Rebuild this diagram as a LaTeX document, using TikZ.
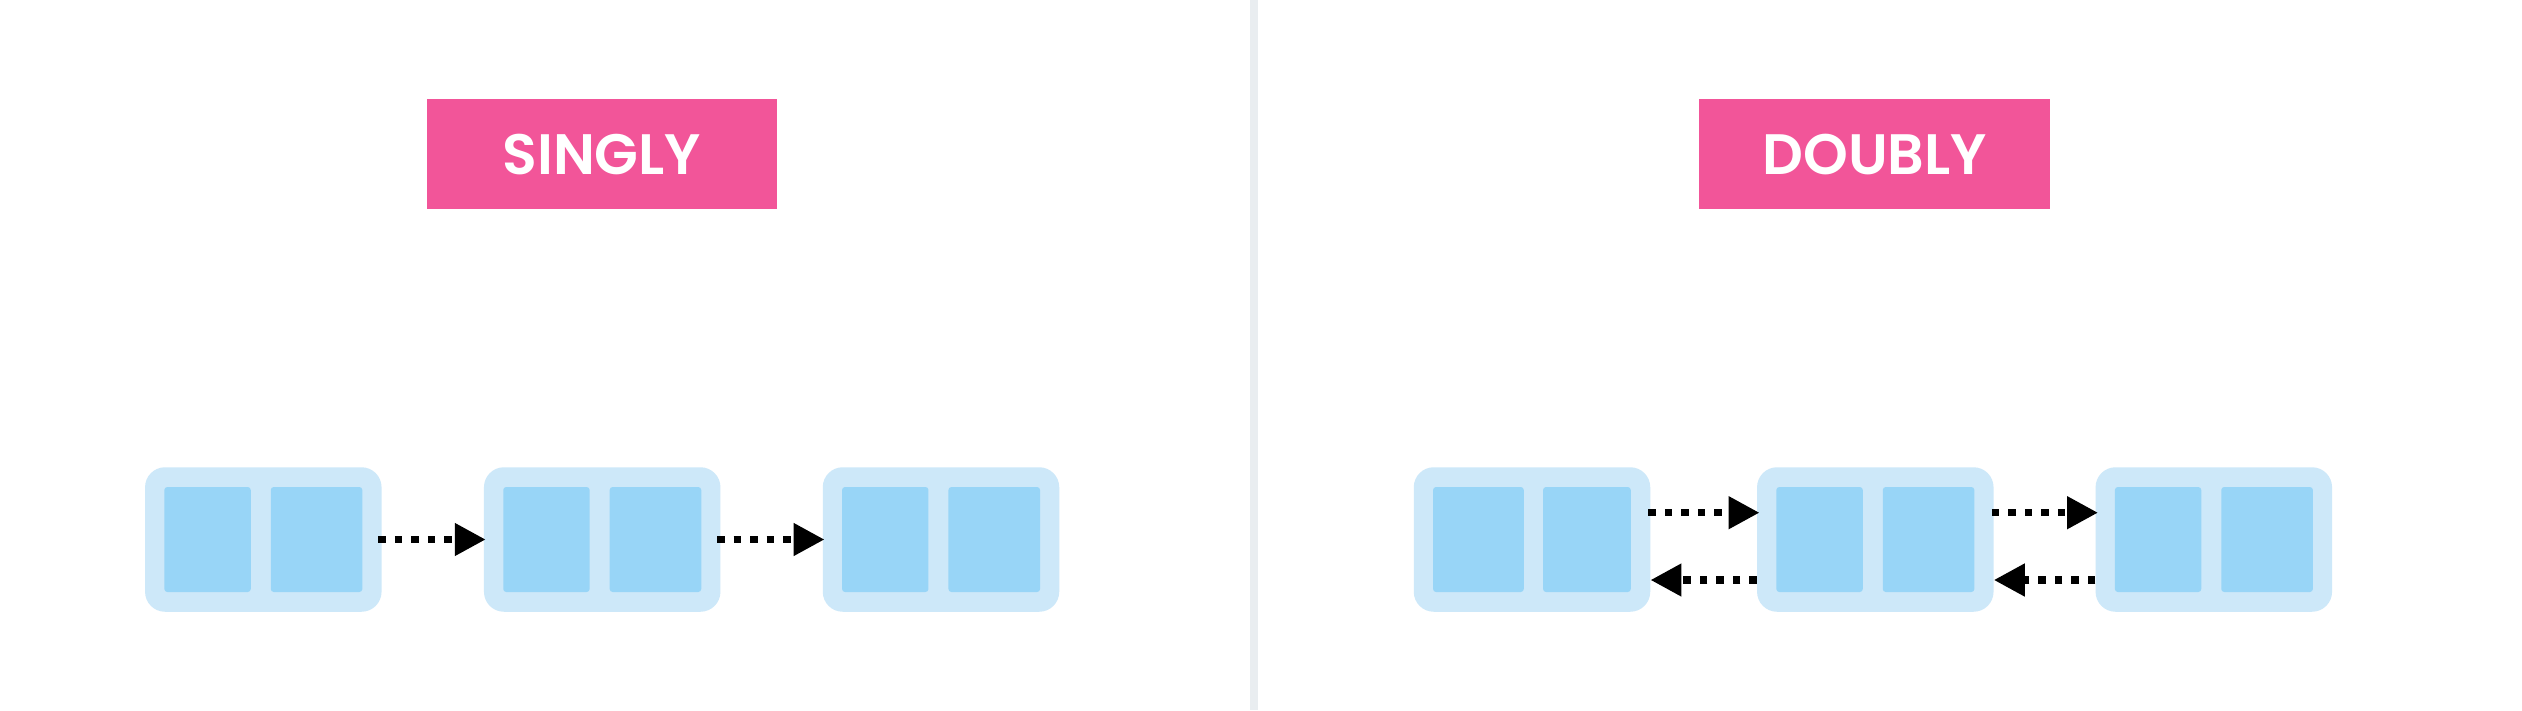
\documentclass[tikz,border=0pt]{standalone}
\usepackage{fontspec}
\newfontfamily\popp{Poppins}[BoldFont={Poppins SemiBold}]
\usetikzlibrary{arrows.meta}
\definecolor{pinkbox}{HTML}{F25599}
\definecolor{outerblue}{HTML}{CDE8F9}
\definecolor{cellblue}{HTML}{98D5F7}
\definecolor{dividergray}{HTML}{E9EDF0}
\begin{document}
\begin{tikzpicture}[x=1pt,y=-1pt,
  header/.style={fill=pinkbox, minimum width=350.5pt, minimum height=110pt, inner sep=0pt,
    text=white, font=\popp\bfseries\fontsize{57}{60}\selectfont},
  listnode/.style={fill=outerblue, rounded corners=20pt, minimum width=236.5pt,
    minimum height=144.5pt, inner sep=0pt},
  cell/.style={fill=cellblue, rounded corners=3pt, minimum height=105pt, inner sep=0pt, anchor=west},
  link/.style={line width=7.5pt, dash pattern=on 7.5pt off 9pt,
    -{Triangle[length=31pt,width=31pt]}}
]
\useasboundingbox[fill=white] (0,0) rectangle (2522,710);
% divider
\draw[line width=8pt, dividergray] (1254,0) -- (1254,710);
% headers
\node[header] (h1) at (601.8,154.3) {SINGLY};
\node[header] (h2) at (1874.6,154.2) {DOUBLY};
% singly nodes
\node[listnode] (n1) at (263.3,539.5) {};
\node[listnode] (n2) at (602.2,539.5) {};
\node[listnode] (n3) at (941.0,539.5) {};
\foreach \n in {n1,n2,n3}{
  \node[cell, minimum width=86.4pt] (\n a) at ([xshift=19.3pt]\n.west) {};
  \node[cell, minimum width=91.6pt] (\n b) at ([xshift=125.7pt]\n.west) {};
}
% doubly nodes
\node[listnode] (d1) at (1532.0,539.5) {};
\node[listnode] (d2) at (1875.3,539.5) {};
\node[listnode] (d3) at (2213.8,539.5) {};
\node[cell, minimum width=90.7pt] (d1a) at ([xshift=19.3pt]d1.west) {};
\node[cell, minimum width=87.7pt] (d1b) at ([xshift=129.3pt]d1.west) {};
\foreach \n in {d2,d3}{
  \node[cell, minimum width=86.4pt] (\n a) at ([xshift=19.3pt]\n.west) {};
  \node[cell, minimum width=91.6pt] (\n b) at ([xshift=125.7pt]\n.west) {};
}
% singly links
\draw[link, shorten <=-3.5pt, shorten >=-2pt] (n1.east) -- (n2.west);
\draw[link, shorten <=-3.5pt, shorten >=-2pt] (n2.east) -- (n3.west);
% doubly links
\draw[link, shorten <=-2pt, shorten >=-2.7pt] ([yshift=26.8pt]d1.east) -- ([yshift=26.8pt]d2.west);
\draw[link, shorten <=-2pt, shorten >=-2.7pt] ([yshift=26.8pt]d2.east) -- ([yshift=26.8pt]d3.west);
\draw[link] ([yshift=-40.5pt]d2.west) -- ([yshift=-40.5pt]d1.east);
\draw[link] ([yshift=-40.5pt]d3.west) -- ([yshift=-40.5pt]d2.east);
\end{tikzpicture}
\end{document}
